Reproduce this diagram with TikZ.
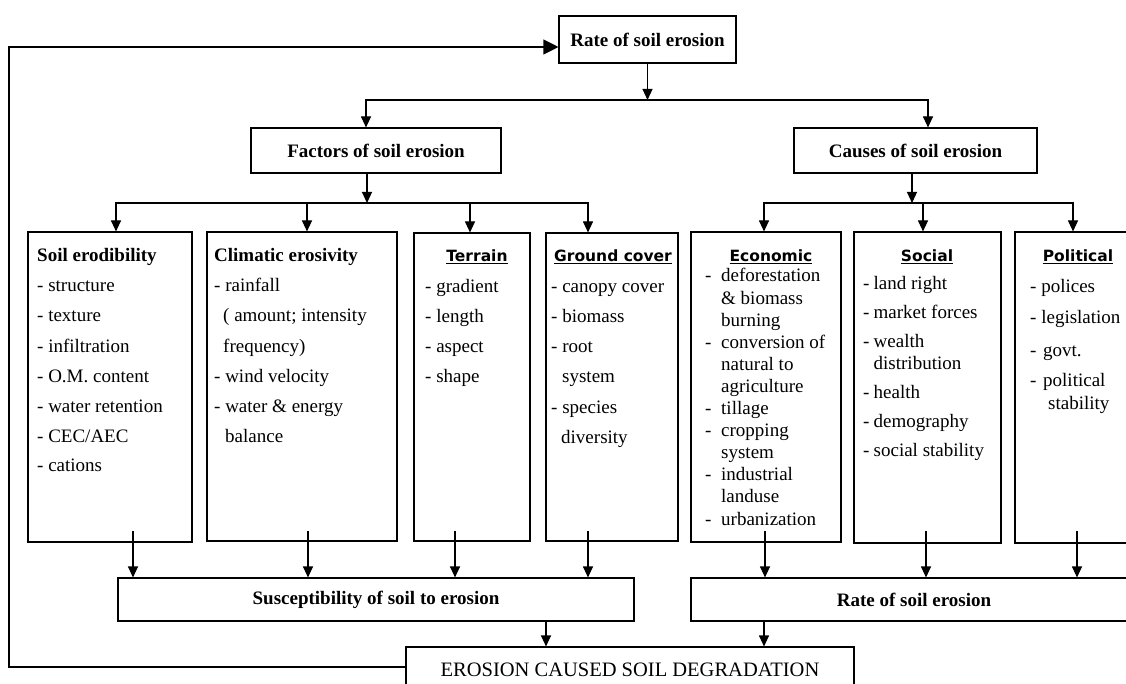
\documentclass[tikz,border=0pt]{standalone}
\usepackage{fontspec}
\setmainfont{Liberation Serif}
\newfontfamily\comicfont{DejaVu Sans}
\usetikzlibrary{arrows.meta}
\newcommand\boxlines[1]{\begin{tabular}[t]{@{}l@{}}#1\end{tabular}}
\begin{document}
\begin{tikzpicture}[x=1pt,y=-1pt,
  box/.style={draw, line width=1.1pt, inner sep=0pt, rectangle},
  arr/.style={line width=1.1pt, -{Triangle[length=11pt,width=10pt]}},
  bigarr/.style={line width=1.1pt, line join=miter, -{Triangle[length=15pt,width=15pt]}},
  ln/.style={line width=1.1pt, line cap=rect},
  lbl/.style={font=\fontsize{19}{23}\selectfont\bfseries},
  ttl/.style={font=\comicfont\bfseries\fontsize{15.5}{18}\selectfont, inner sep=0pt},
  lst/.style={anchor=base west, inner sep=0pt},
]
\clip (0,0) rectangle (1126,684);

% top level
\node[box, minimum width=177pt, minimum height=47pt, lbl] (rate) at (647.5,39.5) {Rate of soil erosion};
\node[box, minimum width=250pt, minimum height=45pt, lbl] (factors) at (376,150.5) {Factors of soil erosion};
\node[box, minimum width=243pt, minimum height=45pt, lbl] (causes) at (915.5,150.5) {Causes of soil erosion};

% boxes
\node[box, minimum width=164pt, minimum height=310pt] (soil) at (110,387) {};
\node[box, minimum width=190pt, minimum height=309pt] (clim) at (302,386.5) {};
\node[box, minimum width=116pt, minimum height=308pt] (terr) at (472,387) {};
\node[box, minimum width=132pt, minimum height=308pt] (ground) at (612,387) {};
\node[box, minimum width=150pt, minimum height=310pt] (econ) at (766,387) {};
\node[box, minimum width=147pt, minimum height=311pt] (social) at (927.5,387.5) {};
\node[box, minimum width=125pt, minimum height=311pt] (polit) at (1077.5,387.5) {};

% bottom
\node[box, minimum width=516pt, minimum height=43pt, lbl] (susc) at (376,599.5) {Susceptibility of soil to erosion};
\node[box, minimum width=449pt, minimum height=43pt] (rate2) at (915.5,599.5) {};
\node[lbl, inner sep=0pt] (rate2t) at (914,599.5) {Rate of soil erosion};
\node[box, minimum width=448pt, minimum height=46pt, font=\fontsize{20.5}{24}\selectfont] (ecsd) at (630,670) {EROSION CAUSED SOIL DEGRADATION};

% box contents
\node[lst, font=\fontsize{19}{30}\selectfont] (soilt) at (37,262) {\boxlines{\textbf{Soil erodibility}\\- structure\\- texture\\- infiltration\\- O.M. content\\- water retention\\- CEC/AEC\\- cations}};
\node[lst, font=\fontsize{19}{30}\selectfont] (climt) at (214,262) {\boxlines{\textbf{Climatic erosivity}\\- rainfall\\\hspace*{9pt}( amount; intensity\\\hspace*{9pt}frequency)\\- wind velocity\\- water \& energy\\\hspace*{11pt}balance}};

\node[ttl] (terrT) at (477,257) {\underline{Terrain}};
\node[lst, font=\fontsize{19}{30}\selectfont] (terrl) at (425,293) {\boxlines{- gradient\\- length\\- aspect\\- shape}};

\node[ttl] (groundT) at (613,257) {\underline{Ground cover}};
\node[lst, font=\fontsize{19}{30}\selectfont] (groundl) at (551,293) {\boxlines{- canopy cover\\- biomass\\- root\\\hspace*{11pt}system\\- species\\\hspace*{10pt}diversity}};

\node[ttl] (econT) at (771,257) {\underline{Economic}};
\node[lst, font=\fontsize{19}{22.1}\selectfont] (econl) at (705,282) {\boxlines{\makebox[16pt][l]{-}deforestation\\\hspace*{16pt}\& biomass\\\hspace*{16pt}burning\\\makebox[16pt][l]{-}conversion of\\\hspace*{16pt}natural to\\\hspace*{16pt}agriculture\\\makebox[16pt][l]{-}tillage\\\makebox[16pt][l]{-}cropping\\\hspace*{16pt}system\\\makebox[16pt][l]{-}industrial\\\hspace*{16pt}landuse\\\makebox[16pt][l]{-}urbanization}};

\node[ttl] (socialT) at (927,257) {\underline{Social}};
\node[lst, font=\fontsize{19}{29}\selectfont] (sociall) at (863,290) {\boxlines{\makebox[10.5pt][l]{-}land right\\\makebox[10.5pt][l]{-}market forces\\\makebox[10.5pt][l]{-}wealth\\[-7pt]\hspace*{10.5pt}distribution\\\makebox[10.5pt][l]{-}health\\\makebox[10.5pt][l]{-}demography\\\makebox[10.5pt][l]{-}social stability}};

\node[ttl] (politT) at (1078,257) {\underline{Political}};
\node[lst, font=\fontsize{19}{31}\selectfont] (politl) at (1030,293) {\boxlines{- polices\\- legislation\\[2pt]\makebox[13pt][l]{-}govt.\\[-1pt]\makebox[13pt][l]{-}political\\[-8pt]\hspace*{18pt}stability}};

% connectors top
\coordinate (j0) at (647.5,100);
\coordinate (jL) at (366,100);
\coordinate (jR) at (928,100);
\draw[arr] (rate.south) -- (j0);
\draw[ln] (jL) -- (jR);
\draw[arr] (jL) -- (jL |- factors.north);
\draw[arr] (jR) -- (jR |- causes.north);

% factors split
\coordinate (jF) at (367,203);
\coordinate (f1) at (116,203);
\coordinate (f2) at (307,203);
\coordinate (f3) at (470,203);
\coordinate (f4) at (588,203);
\draw[arr] (jF |- factors.south) -- (jF);
\draw[ln] (f1) -- (f4);
\draw[arr] (f1) -- (f1 |- soil.north);
\draw[arr] (f2) -- (f2 |- clim.north);
\draw[arr] (f3) -- (f3 |- terr.north);
\draw[arr] (f4) -- (f4 |- ground.north);

% causes split
\coordinate (jC) at (912,203);
\coordinate (c1) at (764,203);
\coordinate (c2) at (923,203);
\coordinate (c3) at (1073,203);
\draw[arr] (jC |- causes.south) -- (jC);
\draw[ln] (c1) -- (c3);
\draw[arr] (c1) -- (c1 |- econ.north);
\draw[arr] (c2) -- (c2 |- social.north);
\draw[arr] (c3) -- (c3 |- polit.north);

% bottom arrows
\coordinate (b1) at (133,531);
\coordinate (b2) at (308,531);
\coordinate (b3) at (455,531);
\coordinate (b4) at (588,531);
\coordinate (b5) at (765,531);
\coordinate (b6) at (926,531);
\coordinate (b7) at (1077,531);
\draw[arr] (b1) -- (b1 |- susc.north);
\draw[arr] (b2) -- (b2 |- susc.north);
\draw[arr] (b3) -- (b3 |- susc.north);
\draw[arr] (b4) -- (b4 |- susc.north);
\draw[arr] (b5) -- (b5 |- rate2.north);
\draw[arr] (b6) -- (b6 |- rate2.north);
\draw[arr] (b7) -- (b7 |- rate2.north);

\coordinate (d1) at (546,621);
\coordinate (d2) at (764,621);
\draw[arr] (d1 |- susc.south) -- (d1 |- ecsd.north);
\draw[arr] (d2 |- rate2.south) -- (d2 |- ecsd.north);

% feedback
\coordinate (fb) at (9,47);
\draw[bigarr] ([yshift=3pt]ecsd.west) -| (fb) -- ([yshift=-7.5pt]rate.west);
\end{tikzpicture}
\end{document}
